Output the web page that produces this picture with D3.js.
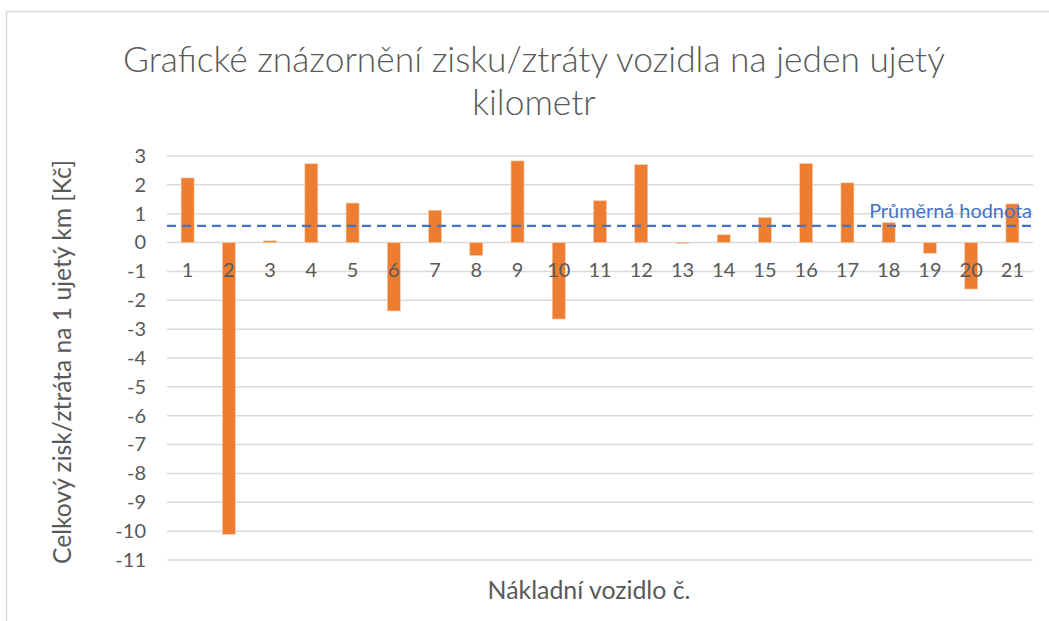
<!DOCTYPE html>
<html><head><meta charset="utf-8">
<script src="https://cdn.jsdelivr.net/npm/d3@7"></script>
<style>body{margin:0;background:#fff}svg{display:block}text{font-family:Lato,"Open Sans",sans-serif}</style>
</head><body>
<svg id="c" width="1049" height="621"></svg>
<script>
const categories = ["1","2","3","4","5","6","7","8","9","10","11","12","13","14","15","16","17","18","19","20","21"];
const values = [2.24,-10.11,0.06,2.73,1.37,-2.37,1.12,-0.45,2.83,-2.65,1.45,2.70,-0.03,0.27,0.87,2.74,2.07,0.69,-0.37,-1.61,1.34];
const averageValue = 0.58;
const yTicks = [3,2,1,0,-1,-2,-3,-4,-5,-6,-7,-8,-9,-10,-11];
const titleLines = ["Grafické znázornění zisku/ztráty vozidla na jeden ujetý","kilometr"];
const yTitle = "Celkový zisk/ztráta na 1 ujetý km [Kč]";
const xTitle = "Nákladní vozidlo č.";
const avgLabel = "Průměrná hodnota";

const svg = d3.select("#c");
const grey = "#595959";
function fit(sel, base, target){
  const w = sel.node().getComputedTextLength();
  sel.style("font-size", (base*target/w)+"px");
}
// chart border
svg.append("rect").attr("x",6.5).attr("y",11.5).attr("width",1100).attr("height",700)
  .attr("fill","none").attr("stroke","#d9d9d9").attr("stroke-width",1.5);

const x = d3.scaleBand().domain(categories).range([167,1033]).paddingInner(0.685).paddingOuter(0.3425);
const y = d3.scaleLinear().domain([-11,3]).range([560,156]);

// gridlines
svg.append("g").selectAll("line").data(yTicks).join("line")
  .attr("x1",167).attr("x2",1033).attr("y1",d=>y(d)).attr("y2",d=>y(d))
  .attr("stroke","#d9d9d9").attr("stroke-width",1.5);

// y axis labels
const yAxis = d3.axisLeft(y).tickValues(yTicks).tickSize(0).tickPadding(0).tickFormat(d=>d<0?"-"+Math.abs(d):String(d));
const ga = svg.append("g").attr("transform","translate(146,0)").call(yAxis);
ga.select(".domain").remove();
ga.selectAll("text").attr("fill",grey).style("font-size","20px").style("font-family","Lato,'Open Sans',sans-serif");

// bars
svg.append("g").selectAll("rect").data(values).join("rect")
  .attr("x",(d,i)=>x(categories[i]))
  .attr("width",x.bandwidth())
  .attr("y",d=>y(Math.max(0,d)))
  .attr("height",d=>Math.max(0.8,Math.abs(y(d)-y(0))))
  .attr("fill","#ED7D31").attr("stroke","#F8CBAD").attr("stroke-width",0.6);

// x axis labels
const xAxis = d3.axisBottom(x).tickSize(0).tickPadding(0);
const gx = svg.append("g").attr("transform","translate(0,263)").call(xAxis);
gx.select(".domain").remove();
gx.selectAll("text").attr("fill",grey).style("font-size","20px").style("font-family","Lato,'Open Sans',sans-serif");

// average line
svg.append("line").attr("x1",167).attr("x2",1033).attr("y1",y(averageValue)).attr("y2",y(averageValue))
  .attr("stroke","#4472C4").attr("stroke-width",2.2).attr("stroke-dasharray","9,6");
const al = svg.append("text").attr("x",1032).attr("y",y(averageValue)-8).attr("text-anchor","end")
  .attr("fill","#4472C4").style("font-size","16px").text(avgLabel);
fit(al,16,163);

// title
const t = svg.append("g");
titleLines.forEach((s,i)=>{
  t.append("text").attr("x",534).attr("y",72+i*43).attr("text-anchor","middle")
   .attr("fill",grey).style("font-size","30px").style("font-weight","300").text(s);
});
const first = t.select("text").node();
const w = first.getComputedTextLength();
t.selectAll("text").style("font-size",(30*822/w)+"px");

// axis titles
const yt = svg.append("text").attr("transform","translate(71,362) rotate(-90)").attr("text-anchor","middle")
  .attr("fill",grey).style("font-size","19px").text(yTitle);
fit(yt,19,404);
const xt = svg.append("text").attr("x",589).attr("y",599).attr("text-anchor","middle")
  .attr("fill",grey).style("font-size","19px").text(xTitle);
fit(xt,19,203);
</script>
</body></html>
